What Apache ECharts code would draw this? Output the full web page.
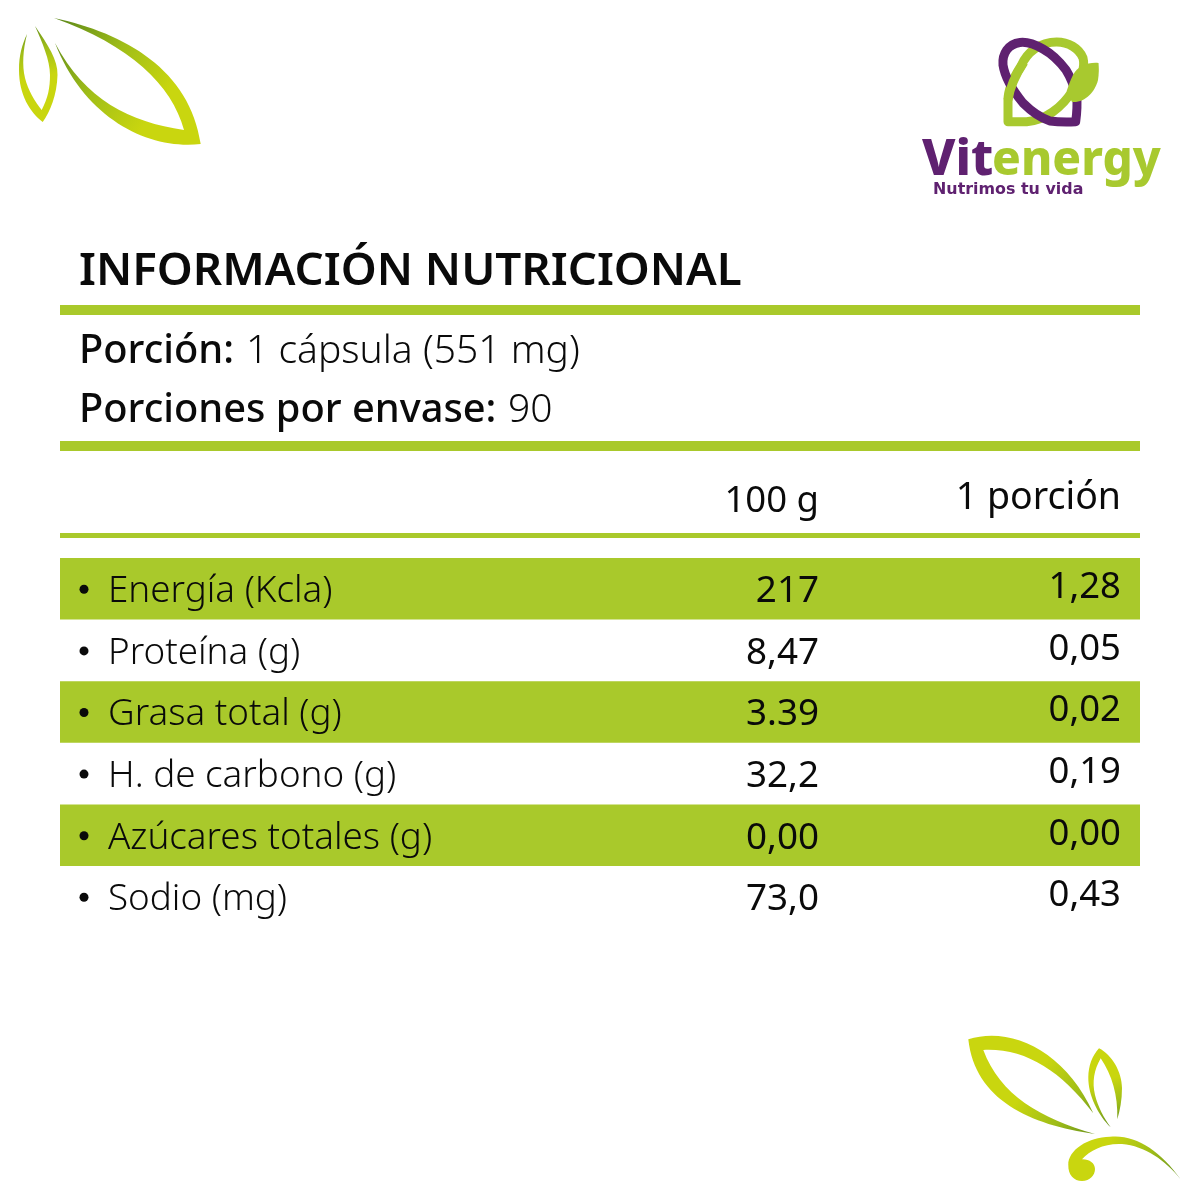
<!DOCTYPE html>
<html>
<head>
    <meta charset="utf-8">
    <title>Información nutricional</title>
    <script src="https://cdn.jsdelivr.net/npm/echarts@6/dist/echarts.min.js"></script>
    <style>
        html, body { margin: 0; padding: 0; background: #fff; }
        #main { width: 1200px; height: 1200px; }
    </style>
</head>
<body>
<div id="main"></div>
<script>
    // table contents
    const rowNames = ['Energía (Kcla)', 'Proteína (g)', 'Grasa total (g)', 'H. de carbono (g)', 'Azúcares totales (g)', 'Sodio (mg)'];
    const per100g = ['217', '8,47', '3.39', '32,2', '0,00', '73,0'];
    const perPortion = ['1,28', '0,05', '0,02', '0,19', '0,00', '0,43'];
    const columnHeads = ['100 g', '1 porción'];

    const GREEN = '#a9c92b';
    const INK = '#0a0a0a';
    const FONT = '"Noto Sans"';

    var chart = echarts.init(document.getElementById('main'), null, { renderer: 'canvas' });

    // leaves fade from dark at the tip to lime
    function leafFill(x1, y1, x2, y2) {
        return new echarts.graphic.LinearGradient(x1, y1, x2, y2, [
            { offset: 0, color: '#5f8a1a' },
            { offset: 0.5, color: '#9fbd18' },
            { offset: 1, color: '#c9d60f' }
        ]);
    }
    function leaf(d, fill) {
        return { type: 'path', shape: { pathData: d, layout: 'cover', x: 0, y: 0, width: 1200, height: 1200 }, style: { fill: fill } };
    }
    function label(text, x, y, font, align, fill, sx) {
        return { type: 'text', x: x, y: y, scaleX: sx || 1, style: { text: text, font: font, fill: fill || INK, textAlign: align || 'left', verticalAlign: 'middle' } };
    }
    function rule(y, h) {
        return { type: 'rect', shape: { x: 60, y: y, width: 1080, height: h }, style: { fill: GREEN } };
    }
    function ring(d, color, w) {
        return { type: 'path', shape: { pathData: d, layout: 'cover', x: 0, y: 0, width: 1200, height: 1200 }, style: { fill: 'none', stroke: color, lineWidth: w, lineJoin: 'round' } };
    }

    // pathData with layout cover scales to its own box, so these markers keep page coordinates
    const box = 'M0 0 L0 0 M1200 1200 L1200 1200 ';

    var PURPLE = '#5f2170', LOGO_GREEN = '#a8c92f';

    var decor = [
        // top left leaves
        leaf(box + 'M54 18 C125 33 190 70 200.7 144 C150 150 85 120 55 43 C85 100 130 122 184 130 C172 85 130 45 54 18 Z', leafFill(0.05, 0.017, 0.138, 0.08)),
        leaf(box + 'M35 26 C48 45 58 60 57.5 75 C57 95 50 112 42.7 122 C30 112 19 95 19 70 C19 55 22 45 27 34 C23 50 22 65 25 78 C28 90 35 102 41.7 110 C48 98 50 88 50 75 C50 60 42 42 35 26 Z', leafFill(0.02, 0.02, 0.03, 0.065)),
        // bottom right leaves
        leaf(box + 'M968.3 1039.3 C1010 1026 1065 1050 1093.3 1113.3 C1060 1070 1025 1048 983.3 1050 C1000 1095 1040 1118 1095 1134 C1030 1125 975 1100 968.3 1039.3 Z', leafFill(0.92, 0.945, 0.86, 0.9)),
        leaf(box + 'M1099 1048.3 C1112 1055 1122 1072 1122 1088 C1122 1100 1120 1110 1117.3 1119.3 C1118 1095 1112 1075 1100.7 1058.3 C1094 1070 1092 1082 1095 1095 C1098 1107 1104 1118 1110.7 1127.3 C1098 1115 1088 1095 1088.3 1077 C1088.5 1066 1092 1056 1099 1048.3 Z', leafFill(0.93, 0.94, 0.92, 0.9)),
        leaf(box + 'M1180.7 1179.3 C1160 1150 1135 1134 1110 1136.7 C1088 1137 1068 1150 1068.3 1165 C1068 1175 1074 1181 1082 1181 C1090 1181 1095 1175 1095 1169 C1095 1163 1089 1159 1082 1159.3 C1090 1150 1105 1143 1122 1144 C1145 1146 1165 1160 1180.7 1179.3 Z', leafFill(0.985, 0.985, 0.925, 0.95)),

        // logo
        ring(box + 'M1056.7 42 C1040 42 1027 52 1021 66 C1012 80 1008 90 1008 100 L1008 121.7 L1026.7 121.7 C1045 120 1062 108 1073 90 C1083 76 1085 66 1083 58 C1079 48 1068 42 1056.7 42 Z', LOGO_GREEN, 9),
        ring(box + 'M1020 42.5 C1008 44 1002 54 1003 65 C1005 78 1014 92 1023 103 C1032 112 1041 118 1050 121 C1058 122 1068 122 1075.7 121.7 C1077 112 1077.5 105 1076.7 96 C1074 86 1071 78 1066 70 C1060 62 1052 54 1043 49 C1036 45 1028 41.5 1020 42.5 Z', PURPLE, 9),
        ring(box + 'M1024 62 C1016 74 1010 86 1008 100', LOGO_GREEN, 9),
        leaf(box + 'M1098.5 63 C1088 62 1078 66 1073 75 C1070 81 1068 87 1066.7 91 L1072 102 C1085 103 1095 92 1098 80 C1099 74 1099 68 1098.5 63 Z', LOGO_GREEN),
        label('Vit', 922, 161, '800 50px ' + FONT, 'left', PURPLE),
        label('energy', 992, 161, '800 47.6px ' + FONT, 'left', LOGO_GREEN),
        label('Nutrimos tu vida', 933, 190, '700 15px "DejaVu Sans"', 'left', PURPLE, 1.06),

        // title block
        label('INFORMACIÓN NUTRICIONAL', 79, 272, '600 45.75px ' + FONT),
        rule(305, 10),
        label('Porción:', 79, 352, '500 39.8px ' + FONT),
        label('1 cápsula (551 mg)', 246, 352, '300 39px ' + FONT),
        label('Porciones por envase:', 79, 411, '500 39.8px ' + FONT),
        label('90', 508, 411, '300 39px ' + FONT),
        rule(441, 10),
        label(columnHeads[0], 819, 502, '400 36.5px ' + FONT, 'right'),
        label(columnHeads[1], 1121, 498, '400 37.5px ' + FONT, 'right'),
        rule(533, 5)
    ];

    // one row per category; x offsets are table pixels from the left end of the rules
    function renderRow(params, api) {
        var i = api.value(0);
        var p = api.coord([0, i]);
        var bandH = api.size([0, 1])[1];
        var cy = p[1];
        var kids = [];
        if (i % 2 === 0) {
            kids.push({ type: 'rect', shape: { x: p[0], y: cy - bandH / 2, width: 1080, height: bandH }, style: { fill: GREEN } });
        }
        kids.push({ type: 'circle', shape: { cx: p[0] + 24, cy: cy + 0.5, r: 4.5 }, style: { fill: INK } });
        kids.push(label(rowNames[i], p[0] + 48, cy + 3, '300 36.8px ' + FONT));
        kids.push(label(per100g[i], p[0] + 759, cy + 3, '400 36.8px ' + FONT, 'right'));
        kids.push(label(perPortion[i], p[0] + 1061, cy - 1, '400 36.5px ' + FONT, 'right'));
        return { type: 'group', children: kids };
    }

    var option = {
        animation: false,
        backgroundColor: '#fff',
        grid: { left: 60, top: 558, width: 1080, height: 369.6 },
        xAxis: { type: 'value', min: 0, max: 1080, show: false },
        yAxis: { type: 'category', inverse: true, data: rowNames, show: false },
        series: [{
            type: 'custom',
            renderItem: renderRow,
            encode: { y: 0 },
            data: rowNames.map(function (n, i) { return [i]; })
        }, {
            type: 'custom',
            coordinateSystem: 'none',
            silent: true,
            renderItem: function () { return { type: 'group', children: decor }; },
            data: [[0]]
        }]
    };
    chart.setOption(option);
</script>
</body>
</html>
